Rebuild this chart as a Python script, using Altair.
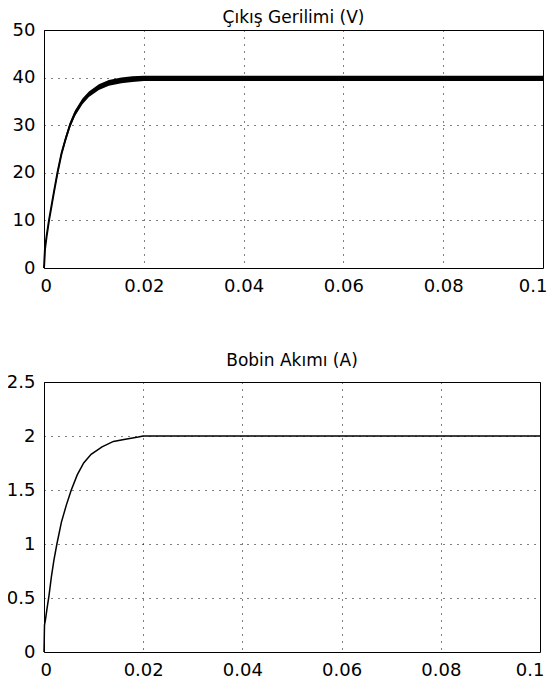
import altair as alt
import pandas as pd

# ---- data ----
t_v = [0, 0.0002, 0.0005, 0.001, 0.0015, 0.002, 0.0027, 0.0035, 0.0043, 0.0052,
       0.0062, 0.0077, 0.009, 0.011, 0.013, 0.0155, 0.0177, 0.02, 0.023, 0.1]
v_mid = [0, 4, 6.5, 10, 13, 16, 20, 24, 27, 30,
         32.5, 35, 36.5, 38, 38.9, 39.4, 39.7, 39.8, 39.9, 39.9]
v_lo = [0, 3.6, 6.1, 9.6, 12.5, 15.5, 19.4, 23.4, 26.4, 29.4,
        31.9, 34.4, 35.9, 37.4, 38.3, 38.8, 39.1, 39.3, 39.3, 39.3]
v_hi = [0, 4.4, 6.9, 10.4, 13.5, 16.5, 20.6, 24.6, 27.6, 30.6,
        33.1, 35.6, 37.1, 38.6, 39.5, 40.0, 40.3, 40.4, 40.4, 40.4]

t_i = [0, 0.0001, 0.0003, 0.0006, 0.001, 0.0015, 0.002, 0.0026, 0.0035, 0.0045,
       0.0055, 0.0067, 0.008, 0.0095, 0.0117, 0.014, 0.0164, 0.019, 0.02, 0.1]
i_l = [0, 0.25, 0.3, 0.4, 0.52, 0.7, 0.85, 1.0, 1.2, 1.36,
       1.5, 1.64, 1.75, 1.83, 1.9, 1.95, 1.97, 1.99, 2.0, 2.0]

x_ticks = [0, 0.02, 0.04, 0.06, 0.08, 0.1]
v_ticks = [0, 10, 20, 30, 40, 50]
i_ticks = [0, 0.5, 1, 1.5, 2, 2.5]

title_v = "Çıkış Gerilimi (V)"
title_i = "Bobin Akımı (A)"

FONT = "DejaVu Sans"
FMT = ".2~f"

df_v = pd.DataFrame({"t": t_v, "v": v_mid, "lo": v_lo, "hi": v_hi})
df_i = pd.DataFrame({"t": t_i, "i": i_l})


def x_enc():
    return alt.X("t:Q", title=None,
                 scale=alt.Scale(domain=[0, 0.1], nice=False, zero=False),
                 axis=alt.Axis(values=x_ticks, format=FMT,
                               labelFlush=True, labelFlushOffset=4))


def title(text, off):
    return alt.TitleParams(text=text, font=FONT, fontSize=17, fontWeight="normal",
                           color="black", anchor="middle", offset=off)


base_v = alt.Chart(df_v)
band = base_v.mark_area(color="black").encode(
    x=x_enc(),
    y=alt.Y("lo:Q", title=None, scale=alt.Scale(domain=[0, 50], nice=False),
            axis=alt.Axis(values=v_ticks, format=FMT)),
    y2="hi:Q",
)
line_v = base_v.mark_line(color="black", strokeWidth=2).encode(
    x=x_enc(),
    y=alt.Y("v:Q", scale=alt.Scale(domain=[0, 50], nice=False)),
)
top = alt.layer(band, line_v).properties(width=499, height=238, title=title(title_v, -6))

bottom = alt.Chart(df_i).mark_line(color="black", strokeWidth=1.5).encode(
    x=x_enc(),
    y=alt.Y("i:Q", title=None, scale=alt.Scale(domain=[0, 2.5], nice=False),
            axis=alt.Axis(values=i_ticks, format=FMT)),
).properties(width=496, height=270, title=title(title_i, 3))

chart = alt.vconcat(top, bottom, spacing=55).properties(
    padding={"left": -3, "top": 0, "right": 0, "bottom": 0},
    background="white",
).configure_view(
    stroke="black", strokeWidth=1
).configure_axis(
    domain=False, ticks=False, labelPadding=9, labelFlush=False,
    labelFont=FONT, labelFontSize=18, labelColor="black",
    grid=True, gridColor="black", gridDash=[1, 6], gridWidth=1, gridOpacity=1,
)

chart.save("out.html", embed_options={"renderer": "svg", "actions": False})
